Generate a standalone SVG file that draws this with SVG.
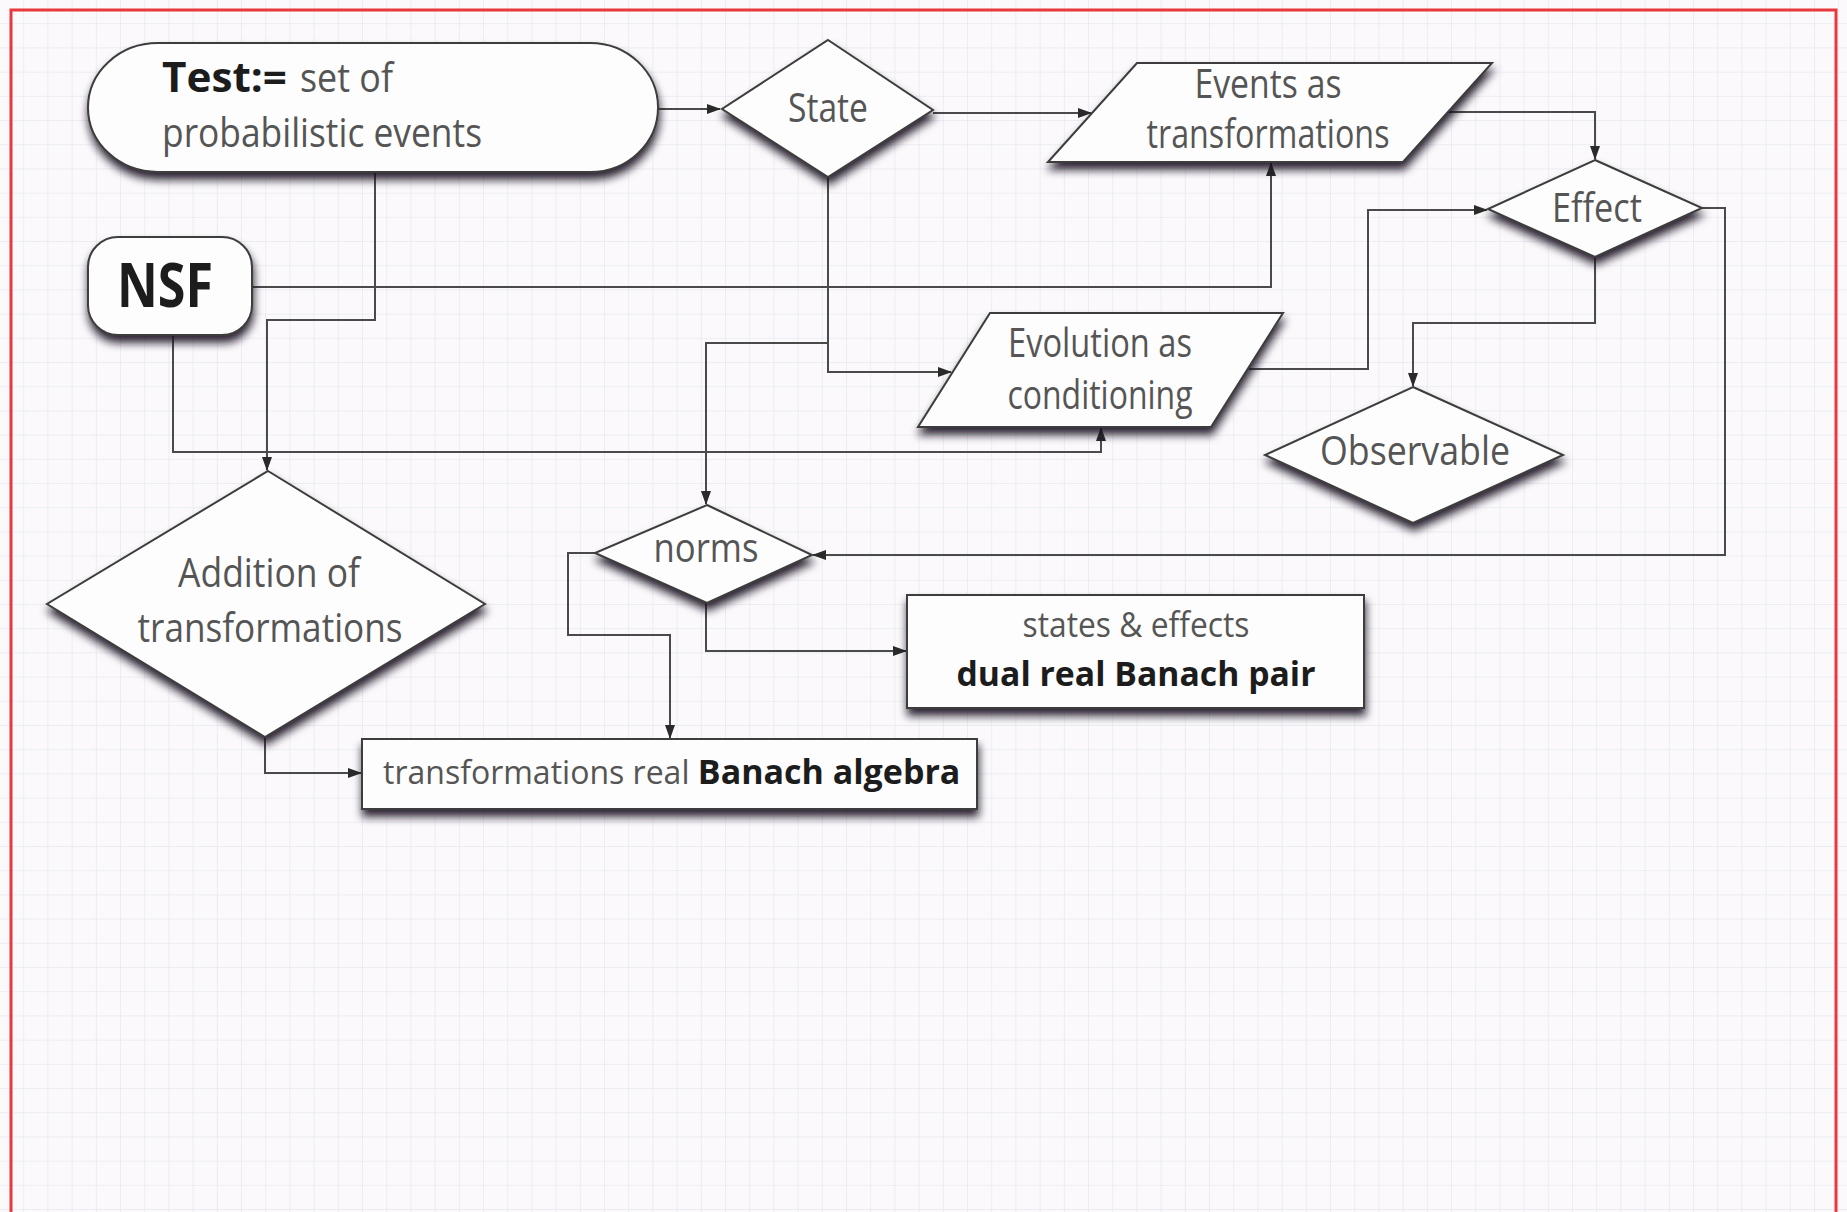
<svg xmlns="http://www.w3.org/2000/svg" width="1847" height="1212" viewBox="0 0 1847 1212">
  <defs>
    <pattern id="grid" width="24.2" height="24.2" patternUnits="userSpaceOnUse">
      <path d="M 24.2 0 V 24.2 M 0 24.2 H 24.2" fill="none" stroke="#dde2ec" stroke-width="1"/>
    </pattern>
    <filter id="shadow" x="-10%" y="-10%" width="125%" height="145%">
      <feGaussianBlur in="SourceAlpha" stdDeviation="4"/>
      <feOffset dx="1" dy="7" result="blur"/>
      <feFlood flood-color="#1a1222" flood-opacity="0.9"/>
      <feComposite in2="blur" operator="in"/>
      <feMerge>
        <feMergeNode/>
        <feMergeNode in="SourceGraphic"/>
      </feMerge>
    </filter>
    <marker id="arrow" markerUnits="userSpaceOnUse" markerWidth="14" markerHeight="10" refX="13" refY="5" orient="auto">
      <path d="M 0 0 L 14 5 L 0 10 Z" fill="#2a2a2a"/>
    </marker>
    <style>
      .node { fill: #fdfdfd; stroke: #3c3c3c; stroke-width: 2; filter: url(#shadow); }
      .edge { fill: none; stroke: #4a4a4a; stroke-width: 2; marker-end: url(#arrow); }
      .lbl { font-family: "Open Sans", "Liberation Sans", sans-serif; font-size: 40px; fill: #555555; }
      .bold { font-family: "Open Sans", "Liberation Sans", sans-serif; font-weight: bold; fill: #1c1c1c; }
      .mid { text-anchor: middle; }
    </style>
  </defs>

  <!-- page background with grid and red frame -->
  <rect width="1847" height="1212" fill="#fbf9fb"/>
  <rect width="1847" height="1212" fill="url(#grid)"/>
  <rect x="11" y="10" width="1825" height="1220" fill="none" stroke="#e8383d" stroke-width="3"/>

  <!-- connectors -->
  <g id="connectors">
    <path class="edge" d="M 658 109 H 720"/>
    <path class="edge" d="M 933 113 H 1091"/>
    <path class="edge" d="M 1448 112 H 1595 V 159"/>
    <path class="edge" d="M 375 172 V 320 H 267 V 470"/>
    <path class="edge" d="M 252 287 H 1271 V 163"/>
    <path class="edge" d="M 173 335 V 452 H 1101 V 428"/>
    <path class="edge" d="M 828 177 V 372 H 951"/>
    <path class="edge" d="M 828 343 H 706 V 504"/>
    <path class="edge" d="M 1249 369 H 1368 V 210 H 1487"/>
    <path class="edge" d="M 1595 257 V 323 H 1413 V 386"/>
    <path class="edge" d="M 1702 208 H 1725 V 555 H 813"/>
    <path class="edge" d="M 595 553 H 568 V 635 H 670 V 738"/>
    <path class="edge" d="M 706 603 V 651 H 906"/>
    <path class="edge" d="M 265 737 V 773 H 361"/>
  </g>

  <!-- nodes -->
  <g id="test">
    <path class="node" d="M 158 43 H 590 A 68 64.5 0 0 1 590 172 H 158 A 70 64.5 0 0 1 158 43 Z"/>
    <text x="162" y="92"><tspan class="bold" font-size="42" textLength="125" lengthAdjust="spacingAndGlyphs">Test:=</tspan><tspan class="lbl" x="300" textLength="93" lengthAdjust="spacingAndGlyphs">set of</tspan></text>
    <text class="lbl" x="162" y="147" textLength="320" lengthAdjust="spacingAndGlyphs">probabilistic events</text>
  </g>

  <g id="nsf">
    <rect class="node" x="88" y="237" width="164" height="98" rx="30" ry="30"/>
    <text class="bold" x="117" y="307" font-size="60" textLength="96" lengthAdjust="spacingAndGlyphs">NSF</text>
  </g>

  <g id="state">
    <polygon class="node" points="828,40 933,110 828,177 722,109"/>
    <text class="lbl mid" x="828" y="122" textLength="80" lengthAdjust="spacingAndGlyphs">State</text>
  </g>

  <g id="events">
    <polygon class="node" points="1137,63 1492,63 1403,162 1048,162"/>
    <text class="lbl mid" x="1268" y="98" textLength="147" lengthAdjust="spacingAndGlyphs">Events as</text>
    <text class="lbl mid" x="1268" y="148" textLength="243" lengthAdjust="spacingAndGlyphs">transformations</text>
  </g>

  <g id="effect">
    <polygon class="node" points="1595,160 1702,208 1595,257 1488,209"/>
    <text class="lbl mid" x="1597" y="222" textLength="90" lengthAdjust="spacingAndGlyphs">Effect</text>
  </g>

  <g id="evolution">
    <polygon class="node" points="990,313 1283,313 1211,427 918,427"/>
    <text class="lbl mid" x="1100" y="357" textLength="184" lengthAdjust="spacingAndGlyphs">Evolution as</text>
    <text class="lbl mid" x="1100" y="409" textLength="185" lengthAdjust="spacingAndGlyphs">conditioning</text>
  </g>

  <g id="observable">
    <polygon class="node" points="1413,387 1563,455 1413,523 1265,455"/>
    <text class="lbl mid" x="1415" y="465" textLength="190" lengthAdjust="spacingAndGlyphs">Observable</text>
  </g>

  <g id="addition">
    <polygon class="node" points="268,471 485,604 265,737 47,604"/>
    <text class="lbl mid" x="269" y="587" textLength="182" lengthAdjust="spacingAndGlyphs">Addition of</text>
    <text class="lbl mid" x="270" y="642" textLength="265" lengthAdjust="spacingAndGlyphs">transformations</text>
  </g>

  <g id="norms">
    <polygon class="node" points="707,505 812,555 707,603 595,553"/>
    <text class="lbl mid" x="706" y="562" textLength="105" lengthAdjust="spacingAndGlyphs">norms</text>
  </g>

  <g id="states-effects">
    <rect class="node" x="907" y="595" width="457" height="113"/>
    <text class="lbl mid" x="1136" y="637" style="font-size:35px" textLength="227" lengthAdjust="spacingAndGlyphs">states &amp; effects</text>
    <text class="bold mid" x="1136" y="686" font-size="34" textLength="359" lengthAdjust="spacingAndGlyphs">dual real Banach pair</text>
  </g>

  <g id="banach-algebra">
    <rect class="node" x="362" y="739" width="615" height="70"/>
    <text class="lbl" x="383" y="784" style="font-size:32px">transformations real <tspan class="bold" font-size="34">Banach algebra</tspan></text>
  </g>
</svg>
